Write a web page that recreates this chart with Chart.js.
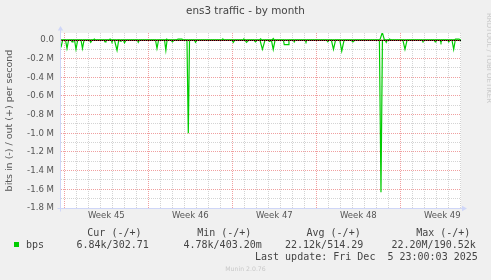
<!DOCTYPE html>
<html><head><meta charset="utf-8">
<script src="https://cdn.jsdelivr.net/npm/chart.js@4.4.1/dist/chart.umd.min.js"></script>
<style>
html,body{margin:0;padding:0;background:#f0f0f0;}
#wrap{position:relative;width:491px;height:280px;overflow:hidden;background:#f0f0f0;}
#c{position:absolute;left:0;top:0;}
.t{position:absolute;font-family:"DejaVu Sans Mono",monospace;font-size:10px;line-height:12px;color:#444;white-space:pre;}
#sq{position:absolute;left:13.7px;top:241.5px;width:5.6px;height:5.6px;background:#00cc00;}
#munin{position:absolute;left:0;width:491px;top:264.5px;text-align:center;font-family:"DejaVu Sans",sans-serif;font-size:6.2px;line-height:8px;color:#c8c8c8;}
#rrd{position:absolute;left:492.5px;top:13px;transform:rotate(90deg);transform-origin:0 0;font-family:"DejaVu Sans",sans-serif;font-size:7px;line-height:8px;color:#c8c8c8;white-space:nowrap;}
</style></head>
<body>
<div id="wrap">
<canvas id="c" width="491" height="280"></canvas>
<div id="rrd">RRDTOOL / TOBI OETIKER</div>
<div class="t" style="left:87.3px;top:227px">Cur (-/+)</div>
<div class="t" style="left:197.2px;top:227px">Min (-/+)</div>
<div class="t" style="left:306.5px;top:227px">Avg (-/+)</div>
<div class="t" style="left:416.2px;top:227px">Max (-/+)</div>
<div id="sq"></div>
<div class="t" style="left:26px;top:239px">bps</div>
<div class="t" style="left:76.5px;top:239px">6.84k/302.71</div>
<div class="t" style="left:183.5px;top:239px">4.78k/403.20m</div>
<div class="t" style="left:285px;top:239px">22.12k/514.29</div>
<div class="t" style="left:391.5px;top:239px">22.20M/190.52k</div>
<div class="t" style="left:255px;top:251px">Last update: Fri Dec  5 23:00:03 2025</div>
<div id="munin">Munin 2.0.76</div>
</div>
<script>
// x values: days since Mon 3 Nov 2025 00:00
const xMin = -0.28, xMax = 33.06;
const weekCenters = [3.5, 10.5, 17.5, 24.5, 31.5];
const weekLabels = ['Week 45', 'Week 46', 'Week 47', 'Week 48', 'Week 49'];
const yTickValues = [0,-100000,-200000,-300000,-400000,-500000,-600000,-700000,-800000,-900000,-1000000,-1100000,-1200000,-1300000,-1400000,-1500000,-1600000,-1700000,-1800000];
const yTickLabels = ['0.0','','-0.2 M','','-0.4 M','','-0.6 M','','-0.8 M','','-1.0 M','','-1.2 M','','-1.4 M','','-1.6 M','','-1.8 M'];
const yMin = -1800000, yMax = 75000;

// bits in (plotted negative)
const inDays = [-0.28,-0.15,0.10,0.22,0.35,0.56,0.64,0.72,0.85,0.97,1.11,1.39,1.51,1.64,2.10,2.20,2.31,3.31,3.39,3.47,3.89,3.97,4.05,4.18,4.39,4.53,4.72,4.81,4.93,5.01,5.14,6.10,6.16,6.25,7.60,7.72,7.85,8.35,8.46,8.56,8.89,9.01,9.14,10.22,10.33,10.43,10.85,10.93,11.06,13.97,14.08,14.20,15.06,15.18,15.35,15.81,15.93,16.06,16.31,16.51,16.72,17.01,17.08,17.14,17.26,17.41,17.56,18.26,18.33,18.66,18.72,19.10,19.16,19.24,20.06,20.14,20.22,21.86,21.96,22.06,22.26,22.43,22.60,22.96,23.12,23.31,23.91,24.05,24.20,26.26,26.39,26.51,26.75,26.83,26.91,28.22,28.39,28.56,29.81,29.89,30.00,30.83,30.91,30.97,31.31,31.39,31.47,31.95,32.04,32.14,32.31,32.45,32.58,33.06];
const inBits = [-80000,-3000,-3000,-90000,-3000,-3000,-20000,-3000,-3000,-100000,-3000,-3000,-90000,-3000,-3000,-25000,-3000,-3000,-20000,-3000,-3000,-20000,-3000,-3000,-110000,-3000,-15000,-3000,-3000,-30000,-3000,-3000,-25000,-3000,-3000,-90000,-3000,-3000,-110000,-3000,-3000,-20000,-3000,-3000,-1000000,-3000,-3000,-25000,-3000,-3000,-25000,-3000,-3000,-25000,-3000,-3000,-20000,-3000,-3000,-100000,-3000,-3000,-15000,-3000,-3000,-100000,-3000,-3000,-50000,-50000,-3000,-3000,-20000,-3000,-3000,-20000,-3000,-3000,-20000,-3000,-3000,-100000,-3000,-3000,-120000,-3000,-3000,-20000,-3000,-3000,-1630000,-3000,-3000,-25000,-3000,-3000,-100000,-3000,-3000,-15000,-3000,-3000,-20000,-3000,-3000,-25000,-3000,-3000,-20000,-3000,-3000,-100000,-3000,-6840];

// bits out (plotted positive)
const outDays = [-0.28,2.41,2.50,2.58,3.72,3.81,3.89,8.45,8.53,8.61,9.35,9.47,9.80,9.93,13.14,13.22,13.30,14.89,14.97,15.05,16.28,16.36,16.44,17.33,17.41,17.49,26.30,26.50,26.68,27.03,27.11,27.19,32.52,32.60,32.90,32.98,33.06];
const outBits = [300,300,10000,300,300,10000,300,300,10000,300,300,10000,10000,300,300,10000,300,300,10000,300,300,12000,300,300,15000,300,300,80000,300,300,10000,300,300,10000,10000,300,303];

const xTickValues = [];
for (let d = 0; d <= 33; d++) xTickValues.push(d);
weekCenters.forEach(v => xTickValues.push(v));
xTickValues.sort((a, b) => a - b);

const RED = '#f0a0a0';
const GRAY = '#d4d4d4';
const AXIS = '#cfd6f8';
const GREEN = '#00cc00';

const deco = {
  id: 'deco',
  beforeDraw(ch) {
    const {ctx, chartArea: a} = ch;
    ctx.save();
    ctx.fillStyle = '#f0f0f0';
    ctx.fillRect(0, 0, ch.width, ch.height);
    ctx.fillStyle = '#ffffff';
    ctx.fillRect(a.left, a.top, a.right - a.left, a.bottom - a.top);
    ctx.restore();
  },
  afterDatasetsDraw(ch) {
    const {ctx, chartArea: a} = ch;
    const y = Math.round(ch.scales.y.getPixelForValue(0)) + 0.5;
    ctx.save();
    ctx.strokeStyle = '#000000';
    ctx.lineWidth = 1;
    ctx.beginPath();
    ctx.moveTo(a.left, y); ctx.lineTo(a.right, y);
    ctx.stroke();
    ctx.strokeStyle = 'rgba(220,60,60,0.8)';
    ctx.setLineDash([1, 1]);
    ctx.beginPath();
    ctx.moveTo(a.left, y); ctx.lineTo(a.right, y);
    ctx.stroke();
    ctx.restore();
  },
  afterDraw(ch) {
    const {ctx, chartArea: a} = ch;
    const L = a.left - 0.5, B = a.bottom + 0.5;
    ctx.save();
    ctx.strokeStyle = AXIS;
    ctx.fillStyle = AXIS;
    ctx.lineWidth = 1;
    ctx.beginPath();
    ctx.moveTo(L, B + 3); ctx.lineTo(L, a.top - 4);
    ctx.moveTo(L - 3, B); ctx.lineTo(a.right + 2, B);
    ctx.stroke();
    ctx.beginPath();
    ctx.moveTo(L, a.top - 7); ctx.lineTo(L - 2.7, a.top - 2.5); ctx.lineTo(L + 2.7, a.top - 2.5); ctx.closePath();
    ctx.fill();
    ctx.beginPath();
    ctx.moveTo(a.right + 6, B); ctx.lineTo(a.right + 1, B - 2.7); ctx.lineTo(a.right + 1, B + 2.7); ctx.closePath();
    ctx.fill();
    ctx.restore();
  }
};

new Chart(document.getElementById('c'), {
  type: 'scatter',
  data: {
    datasets: [
      { label: 'bps in', data: inDays.map((d, i) => ({x: d, y: inBits[i]})), showLine: true, borderColor: GREEN, backgroundColor: GREEN, borderWidth: 1.2, pointRadius: 0, tension: 0 },
      { label: 'bps out', data: outDays.map((d, i) => ({x: d, y: outBits[i]})), showLine: true, borderColor: GREEN, backgroundColor: GREEN, borderWidth: 1.2, pointRadius: 0, tension: 0 }
    ]
  },
  options: {
    responsive: false,
    animation: false,
    devicePixelRatio: 1,
    layout: { padding: { left: 0, right: 0, top: 0, bottom: 0 } },
    plugins: {
      legend: { display: false },
      tooltip: { enabled: false },
      title: {
        display: true, text: 'ens3 traffic - by month', color: '#444',
        font: { family: 'DejaVu Sans', size: 10.4, weight: 'normal' },
        padding: { top: 4.8, bottom: 15.7 }
      }
    },
    scales: {
      x: {
        type: 'linear', min: xMin, max: xMax,
        afterBuildTicks: s => { s.ticks = xTickValues.map(v => ({value: v})); },
        afterFit: s => { s.height = 72; },
        grid: {
          drawTicks: false, lineWidth: 1,
          color: c => {
            const v = c.tick ? c.tick.value : 0.5;
            if (!Number.isInteger(v)) return 'rgba(0,0,0,0)';
            return v % 7 === 0 ? RED : GRAY;
          }
        },
        border: { display: false, dash: [1, 1] },
        ticks: {
          autoSkip: false, maxRotation: 0, minRotation: 0, padding: 3,
          color: '#555', font: { family: 'DejaVu Sans', size: 8.5 },
          callback: v => { const i = weekCenters.indexOf(v); return i >= 0 ? weekLabels[i] : ''; }
        }
      },
      y: {
        type: 'linear', min: yMin, max: yMax,
        afterBuildTicks: s => { s.ticks = yTickValues.map(v => ({value: v})); },
        afterFit: s => { s.width = 61; },
        grid: {
          drawTicks: false, lineWidth: 1,
          color: c => {
            const v = c.tick ? c.tick.value : 1;
            return (v % 200000 === 0) ? RED : GRAY;
          }
        },
        border: { display: false, dash: [1, 1] },
        title: {
          display: true, text: 'bits in (-) / out (+) per second', color: '#555',
          font: { family: 'DejaVu Sans', size: 9.5 }, padding: { top: 3.6, bottom: 0 }
        },
        ticks: {
          autoSkip: false, padding: 7, color: '#555', font: { family: 'DejaVu Sans', size: 8.6 },
          callback: v => { const i = yTickValues.indexOf(v); return i >= 0 ? yTickLabels[i] : ''; }
        }
      },
      yRight: {
        type: 'linear', position: 'right', min: yMin, max: yMax,
        afterFit: s => { s.width = 30; },
        grid: { drawOnChartArea: false, drawTicks: false },
        border: { display: false },
        ticks: { display: false }
      }
    }
  },
  plugins: [deco]
});
</script>
</body></html>
